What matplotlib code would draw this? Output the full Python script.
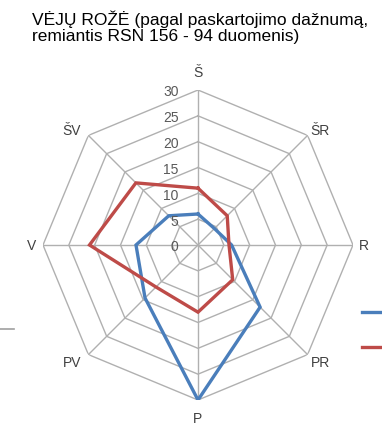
import numpy as np
import matplotlib.pyplot as plt
from matplotlib.lines import Line2D

# Wind directions (clockwise from north) and frequency (%) for two series
directions = ["Š", "ŠR", "R", "PR", "P", "PV", "V", "ŠV"]
series_blue = [6, 4.5, 6.5, 17, 30, 14.5, 12, 8]
series_red = [11, 8, 6, 9.5, 13, 11.5, 21, 17]
ring_values = [0, 5, 10, 15, 20, 25, 30]

BLUE = "#4a7ebb"
RED = "#be4b48"
GRID = "#b0b0b0"

plt.rcParams["font.family"] = ["Liberation Sans", "DejaVu Sans"]

fig = plt.figure(figsize=(3.82, 4.39), dpi=100)
ax = fig.add_axes([43 / 382, 38 / 439, 310 / 382, 310 / 439], projection="polar")
ax.set_theta_zero_location("N")
ax.set_theta_direction(-1)
ax.set_ylim(0, ring_values[-1])
ax.grid(False)
ax.spines["polar"].set_visible(False)
ax.set_xticks([])
ax.set_yticks([])
ax.patch.set_alpha(0)

angles = np.linspace(0, 2 * np.pi, len(directions), endpoint=False)
closed = np.append(angles, angles[0])

# octagonal rings and spokes
for r in ring_values[1:]:
    ax.plot(closed, [r] * len(closed), color=GRID, lw=1.0, zorder=1)
for a in angles:
    ax.plot([a, a], [0, ring_values[-1]], color=GRID, lw=1.0, zorder=1)

for vals, col in [(series_blue, BLUE), (series_red, RED)]:
    ax.plot(closed, vals + vals[:1], color=col, lw=2.4, zorder=3,
            solid_joinstyle="miter")

# radial value labels left of the north spoke
for r in ring_values:
    ax.annotate(str(r), xy=(0, r), xytext=(-14, -1), textcoords="offset points",
                ha="right", va="center", fontsize=10, color="#595959",
                annotation_clip=False)

# direction labels outside the outer ring
offsets = {
    "Š": (0, 13, "center", "center"),
    "ŠR": (9, 4, "center", "center"),
    "R": (4, 0, "left", "center"),
    "PR": (9, -5, "center", "center"),
    "P": (0, -13, "center", "center"),
    "PV": (-12, -5, "center", "center"),
    "V": (-5, 0, "right", "center"),
    "ŠV": (-12, 4, "center", "center"),
}
for a, name in zip(angles, directions):
    dx, dy, ha, va = offsets[name]
    ax.annotate(name, xy=(a, ring_values[-1]), xytext=(dx, dy),
                textcoords="offset points", ha=ha, va=va, fontsize=10,
                color="#404040", annotation_clip=False)

fig.text(32 / 382, 1 - 10 / 439,
         "VĖJŲ ROŽĖ (pagal paskartojimo dažnumą,\nremiantis RSN 156 - 94 duomenis)",
         ha="left", va="top", fontsize=12.5, color="black", linespacing=1.1)

# legend keys (cut at the right edge) and a stray rule on the left
fig.add_artist(Line2D([362 / 382, 1], [1 - 313 / 439] * 2, color=BLUE, lw=2.4))
fig.add_artist(Line2D([362 / 382, 1], [1 - 348 / 439] * 2, color=RED, lw=2.4))
fig.add_artist(Line2D([0, 14 / 382], [1 - 330 / 439] * 2, color="#a0a0a0", lw=1.2))

fig.savefig("out.png", dpi=100)
